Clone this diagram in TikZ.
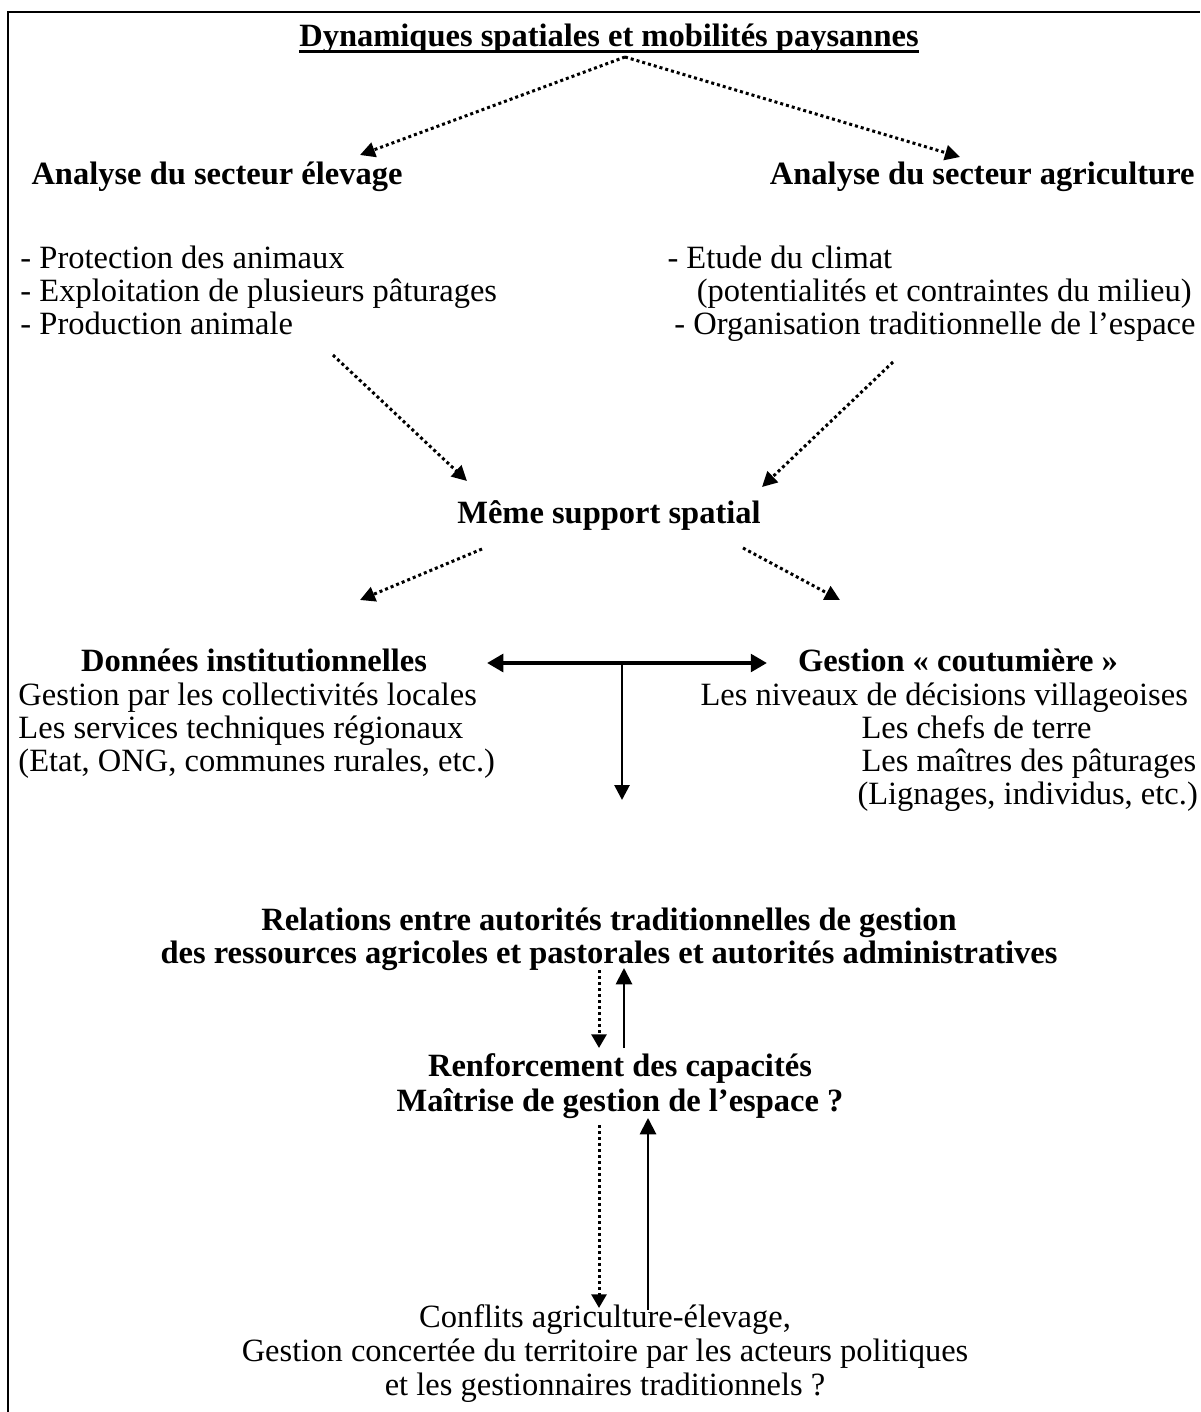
\documentclass[tikz,border=0pt]{standalone}
\usepackage{fontspec}
\setmainfont{Liberation Serif}
\usetikzlibrary{arrows.meta,calc}
\begin{document}
\begin{tikzpicture}[x=0.4pt,y=-0.4pt,
  txt/.style={inner sep=0pt, font=\fontsize{13}{13.2}\selectfont},
  btxt/.style={inner sep=0pt, font=\fontsize{13}{13.2}\selectfont\bfseries},
  dotarrow/.style={line width=1.2pt, dash pattern=on 1.2pt off 1.2pt, -{Triangle[length=6pt,width=6pt]}},
  dotvert/.style={line width=1.2pt, dash pattern=on 1.2pt off 1.2pt, -{Triangle[length=5.5pt,width=6pt]}},
  solidup/.style={line width=0.8pt, -{Triangle[length=6.5pt,width=6.5pt]}},
  framel/.style={line width=0.8pt}
]
\useasboundingbox (0,0) rectangle (1200,1412);
\fill[white] (0,0) rectangle (1200,1412);
% frame
\draw[framel] (8,1412) -- (8,12.5) -- (1200,12.5);

% title
\node[btxt, anchor=base] (title) at (609,47) {Dynamiques spatiales et mobilités paysannes};
\draw[line width=1.2pt] ($(title.base west)+(0,5)$) -- ($(title.base east)+(0,5)$);

\coordinate (apex) at (625,57);
\coordinate (tipL1) at (360,155);
\coordinate (tipR1) at (960,157);
\draw[dotarrow] (apex) -- (tipL1);
\draw[dotarrow] (apex) -- (tipR1);

\node[btxt, anchor=base west] (elev) at (31,185) {Analyse du secteur élevage};
\node[btxt, anchor=base east] (agri) at (1195,185) {Analyse du secteur agriculture};

\node[txt, anchor=base west] (l1) at (20,268) {- Protection des animaux};
\node[txt, anchor=base west] (l2) at (20,301) {- Exploitation de plusieurs pâturages};
\node[txt, anchor=base west] (l3) at (20,334) {- Production animale};

\node[txt, anchor=base west] (r1) at (667,268) {- Etude du climat};
\node[txt, anchor=base east] (r2) at (1192,301) {(potentialités et contraintes du milieu)};
\node[txt, anchor=base east] (r3) at (1196,334) {- Organisation traditionnelle de l’espace};

\coordinate (s1) at (333,355); \coordinate (t1) at (467,481);
\coordinate (s2) at (893,362); \coordinate (t2) at (762,487);
\draw[dotarrow] (s1) -- (t1);
\draw[dotarrow] (s2) -- (t2);

\node[btxt, anchor=base] (meme) at (609,523) {Même support spatial};

\coordinate (s3) at (482,549); \coordinate (t3) at (360,600);
\coordinate (s4) at (743,548); \coordinate (t4) at (840,600);
\draw[dotarrow] (s3) -- (t3);
\draw[dotarrow] (s4) -- (t4);

\node[btxt, anchor=base] (inst) at (254,671) {Données institutionnelles};
\node[txt, anchor=base west] (i1) at (18,705) {Gestion par les collectivités locales};
\node[txt, anchor=base west] (i2) at (18,738) {Les services techniques régionaux};
\node[txt, anchor=base west] (i3) at (18,771) {(Etat, ONG, communes rurales, etc.)};

\node[btxt, anchor=base] (cout) at (958,671) {Gestion « coutumière »};
\node[txt, anchor=base west] (c1) at (700,705) {Les niveaux de décisions villageoises};
\node[txt, anchor=base west] (c2) at (861,738) {Les chefs de terre};
\node[txt, anchor=base west] (c3) at (861,771) {Les maîtres des pâturages};
\node[txt, anchor=base west] (c4) at (857,804) {(Lignages, individus, etc.)};

\coordinate (hL) at (487,663); \coordinate (hR) at (767,663);
\coordinate (hM) at (622,663); \coordinate (vT) at (622,800);
\draw[line width=1.7pt, {Triangle[length=6.5pt,width=7pt]}-{Triangle[length=6.5pt,width=7pt]}] (hL) -- (hR);
\draw[line width=1.1pt, -{Triangle[length=6pt,width=6pt]}] (hM) -- (vT);

\node[btxt, anchor=base] (rel1) at (609,930) {Relations entre autorités traditionnelles de gestion};
\node[btxt, anchor=base] (rel2) at (609,963) {des ressources agricoles et pastorales et autorités administratives};

\coordinate (d1s) at (599,970); \coordinate (d1e) at (599,1048);
\coordinate (u1s) at (624,1048); \coordinate (u1e) at (624,968);
\draw[dotvert] (d1s) -- (d1e);
\draw[solidup] (u1s) -- (u1e);

\node[btxt, anchor=base] (ren1) at (620,1076) {Renforcement des capacités};
\node[btxt, anchor=base] (ren2) at (620,1111) {Maîtrise de gestion de l’espace ?};

\coordinate (d2s) at (599,1125); \coordinate (d2e) at (599,1308);
\coordinate (u2s) at (648,1310); \coordinate (u2e) at (648,1118);
\draw[dotvert] (d2s) -- (d2e);
\draw[solidup] (u2s) -- (u2e);

\node[txt, anchor=base] (co1) at (605,1327) {Conflits agriculture-élevage,};
\node[txt, anchor=base] (co2) at (605,1361) {Gestion concertée du territoire par les acteurs politiques};
\node[txt, anchor=base] (co3) at (605,1395) {et les gestionnaires traditionnels ?};
\end{tikzpicture}
\end{document}
